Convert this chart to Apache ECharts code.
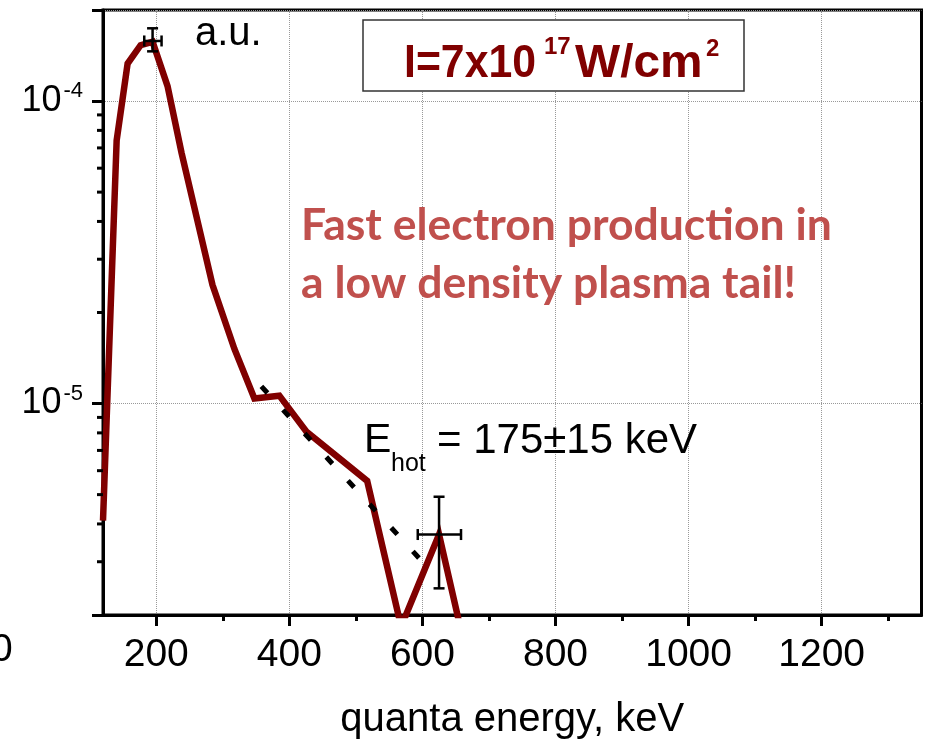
<!DOCTYPE html>
<html>
<head>
<meta charset="utf-8">
<script src="https://cdn.jsdelivr.net/npm/echarts@6/dist/echarts.min.js"></script>
<style>
  html, body { margin: 0; padding: 0; background: #fff; }
  #chart { width: 926px; height: 745px; }
</style>
</head>
<body>
<div id="chart"></div>
<script>
// Measured hard x-ray spectrum (quanta energy in keV, intensity in a.u.)
const energy    = [120, 140.5, 157, 176.5, 194.5, 217, 238, 284.5, 317.5, 347.5, 385, 425.5, 517, 568, 625, 655];
const intensity = [4.1e-6, 7.4e-5, 1.33e-4, 1.53e-4, 1.57e-4, 1.12e-4, 6.75e-5, 2.47e-5, 1.515e-5, 1.04e-5, 1.062e-5, 8.09e-6, 5.55e-6, 1.83e-6, 3.69e-6, 1.9e-6];

// Exponential fit of the hot tail (E_hot = 175 keV)
const fitEnergy    = [358, 600];
const fitIntensity = [1.14e-5, 3.0e-6];

// Error bars
const errEnergy        = [194.5, 625];
const errIntensity     = [1.58e-4, 3.69e-6];
const errEnergyLow     = [182, 593];
const errEnergyHigh    = [208, 658];
const errIntensityLow  = [1.46e-4, 2.45e-6];
const errIntensityHigh = [1.74e-4, 4.92e-6];

// Axes
const xMin = 120, xMax = 1350;
const yMin = 2e-6, yMax = 2e-4;
const xMajorTicks = [200, 400, 600, 800, 1000, 1200];
const xMinorTicks = [300, 500, 700, 900, 1100, 1300];
const yMinorTicks = [3e-6, 4e-6, 5e-6, 6e-6, 7e-6, 8e-6, 9e-6,
                     2e-5, 3e-5, 4e-5, 5e-5, 6e-5, 7e-5, 8e-5, 9e-5];

const FONT = '"Liberation Sans", Arial, sans-serif';
const NOTE_FONT = 'Lato, "Open Sans", sans-serif';
const DARK_RED = '#800000';

const chart = echarts.init(document.getElementById('chart'), null, { renderer: 'canvas' });

const errData = errEnergy.map((e, i) => [e, errIntensity[i], errEnergyLow[i], errEnergyHigh[i], errIntensityLow[i], errIntensityHigh[i]]);

chart.setOption({
  animation: false,
  backgroundColor: '#fff',
  grid: {
    left: 103, right: 4.5, top: 10, bottom: 128,
    show: true, borderColor: '#000', borderWidth: 3, backgroundColor: 'transparent'
  },
  xAxis: [{
    type: 'value', min: xMin, max: xMax, position: 'bottom',
    axisLine: { show: true, lineStyle: { color: '#000', width: 3 } },
    axisTick: { show: true, customValues: xMajorTicks, length: 11, lineStyle: { color: '#000', width: 3 } },
    axisLabel: {
      show: true, customValues: xMajorTicks, fontSize: 39, fontFamily: FONT, color: '#000', margin: 21,
      formatter: v => String(v)
    },
    splitLine: { show: true, lineStyle: { color: '#999', width: 1, type: [1, 1] } },
    name: 'quanta energy, keV', nameLocation: 'middle', nameGap: 85,
    nameTextStyle: { fontSize: 40, fontFamily: FONT, color: '#000' }
  }, {
    type: 'value', min: xMin, max: xMax, position: 'bottom',
    axisLine: { show: false },
    axisTick: { show: true, customValues: xMinorTicks, length: 6, lineStyle: { color: '#000', width: 3 } },
    axisLabel: { show: false },
    splitLine: { show: false }
  }],
  yAxis: {
    type: 'log', logBase: 10, min: yMin, max: yMax,
    axisLine: { show: true, lineStyle: { color: '#000', width: 3 } },
    axisTick: { show: true, length: 11, lineStyle: { color: '#000', width: 3 } },
    axisLabel: {
      margin: 20,
      formatter: function (v) {
        const e = Math.log10(v), r = Math.round(e);
        if (Math.abs(e - r) > 1e-6) return '';
        return '{b|10}{s|' + r + '}';
      },
      rich: {
        b: { fontSize: 36, lineHeight: 42, fontFamily: FONT, color: '#000' },
        s: { fontSize: 22, lineHeight: 22, fontFamily: FONT, color: '#000', verticalAlign: 'top', padding: [0, 0, 0, 2] }
      }
    },
    splitLine: { show: true, lineStyle: { color: '#999', width: 1, type: [1, 1] } },
    minorTick: { show: false }
  },
  series: [{
    type: 'line',
    name: 'spectrum',
    data: energy.map((e, i) => [e, intensity[i]]),
    showSymbol: false, symbol: 'none',
    lineStyle: { color: DARK_RED, width: 6.5, join: 'miter', miterLimit: 4 },
    clip: true, z: 3
  }, {
    type: 'line',
    name: 'fit',
    data: fitEnergy.map((e, i) => [e, fitIntensity[i]]),
    showSymbol: false, symbol: 'none',
    lineStyle: { color: '#000', width: 5, type: [9, 23], cap: 'butt' },
    z: 4
  }, {
    type: 'custom',
    name: 'error bars',
    data: errData,
    encode: { x: 0, y: 1 },
    z: 5,
    renderItem: function (params, api) {
      const x = api.value(0), y = api.value(1);
      const c = api.coord([x, y]);
      const l = api.coord([api.value(2), y]);
      const r = api.coord([api.value(3), y]);
      const b = api.coord([x, api.value(4)]);
      const t = api.coord([x, api.value(5)]);
      const cap = 5.5;
      const style = { stroke: '#000', lineWidth: 2.5, fill: null };
      return {
        type: 'group',
        children: [
          { type: 'line', shape: { x1: l[0], y1: c[1], x2: r[0], y2: c[1] }, style },
          { type: 'line', shape: { x1: c[0], y1: t[1], x2: c[0], y2: b[1] }, style },
          { type: 'line', shape: { x1: c[0] - cap, y1: t[1], x2: c[0] + cap, y2: t[1] }, style },
          { type: 'line', shape: { x1: c[0] - cap, y1: b[1], x2: c[0] + cap, y2: b[1] }, style },
          { type: 'line', shape: { x1: l[0], y1: c[1] - cap, x2: l[0], y2: c[1] + cap }, style },
          { type: 'line', shape: { x1: r[0], y1: c[1] - cap, x2: r[0], y2: c[1] + cap }, style }
        ]
      };
    }
  }, {
    // minor decade ticks on the logarithmic axis
    type: 'custom',
    name: 'y minor ticks',
    data: yMinorTicks.map(v => [xMin, v]),
    encode: { x: 0, y: 1 },
    silent: true, z: 6,
    renderItem: function (params, api) {
      const p = api.coord([api.value(0), api.value(1)]);
      return {
        type: 'line',
        shape: { x1: p[0] - 6, y1: p[1], x2: p[0], y2: p[1] },
        style: { stroke: '#000', lineWidth: 3 }
      };
    }
  }],
  graphic: [
    { type: 'text', left: 195, top: 14, style: { text: 'a.u.', fontSize: 40, fontFamily: FONT, fill: '#000' }, z: 10 },
    { type: 'rect', shape: { x: 363, y: 20, width: 381, height: 71 }, style: { fill: '#fff', stroke: '#333', lineWidth: 1.5 }, z: 10 },
    { type: 'text', x: 404, y: 64, scaleX: 0.93, style: { text: 'I=7x10', fontSize: 46, fontWeight: 'bold', fontFamily: FONT, fill: DARK_RED, verticalAlign: 'middle' }, z: 11 },
    { type: 'text', x: 544, y: 47, style: { text: '17', fontSize: 24, fontWeight: 'bold', fontFamily: FONT, fill: DARK_RED, verticalAlign: 'middle' }, z: 11 },
    { type: 'text', x: 575, y: 64, scaleX: 1.04, style: { text: 'W/cm', fontSize: 46, fontWeight: 'bold', fontFamily: FONT, fill: DARK_RED, verticalAlign: 'middle' }, z: 11 },
    { type: 'text', x: 706, y: 49, style: { text: '2', fontSize: 24, fontWeight: 'bold', fontFamily: FONT, fill: DARK_RED, verticalAlign: 'middle' }, z: 11 },
    { type: 'text', x: 301, y: 226, style: { text: 'Fast electron production in', fontSize: 44.5, fontWeight: 'bold', fontFamily: NOTE_FONT, fill: '#C0504D', verticalAlign: 'middle' }, z: 10 },
    { type: 'text', x: 301, y: 284, style: { text: 'a low density plasma tail!', fontSize: 44.5, fontWeight: 'bold', fontFamily: NOTE_FONT, fill: '#C0504D', verticalAlign: 'middle' }, z: 10 },
    { type: 'text', x: 364, y: 441, style: { text: 'E', fontSize: 41, fontFamily: FONT, fill: '#000', verticalAlign: 'middle' }, z: 10 },
    { type: 'text', x: 391, y: 464, style: { text: 'hot', fontSize: 25, fontFamily: FONT, fill: '#000', verticalAlign: 'middle' }, z: 10 },
    { type: 'text', x: 437, y: 441, style: { text: '= 175±15 keV', fontSize: 42, fontFamily: FONT, fill: '#000', verticalAlign: 'middle' }, z: 10 },
    { type: 'text', x: -9, y: 650, style: { text: '0', fontSize: 39, fontFamily: FONT, fill: '#000', verticalAlign: 'middle' }, z: 10 }
  ]
});
</script>
</body>
</html>
